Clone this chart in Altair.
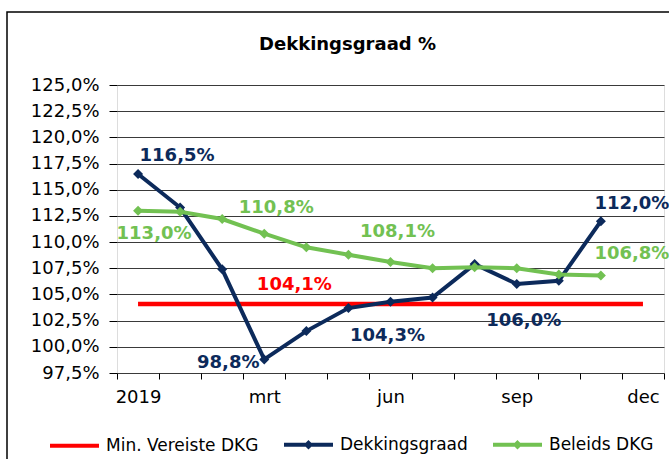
import altair as alt
import pandas as pd

months = ["2019", "jan", "feb", "mrt", "apr", "mei", "jun", "jul", "aug", "sep", "okt", "nov", "dec"]
shown_months = ["2019", "mrt", "jun", "sep", "dec"]
series_names = ["Min. Vereiste DKG", "Dekkingsgraad", "Beleids DKG"]
series_colors = ["#ff0000", "#0c2a5b", "#72c152"]

min_vereiste = [104.1] * 13
dekkingsgraad = [116.5, 113.3, 107.4, 98.8, 101.5, 103.7, 104.3, 104.7, 107.9, 106.0, 106.3, 112.0]
beleids = [113.0, 112.9, 112.2, 110.8, 109.5, 108.8, 108.1, 107.5, 107.6, 107.5, 106.9, 106.8]

y_ticks = [97.5, 100.0, 102.5, 105.0, 107.5, 110.0, 112.5, 115.0, 117.5, 120.0, 122.5, 125.0]

rows = []
for name, vals in zip(series_names, [min_vereiste, dekkingsgraad, beleids]):
    for m, v in zip(months, vals):
        rows.append({"month": m, "series": name, "value": v})
df = pd.DataFrame(rows)

FONT = "DejaVu Sans"
NAVY_BORDER = "#1f3864"

x_enc = alt.X(
    "month:N",
    sort=months,
    scale=alt.Scale(type="band", domain=months, paddingInner=0, paddingOuter=0),
    axis=alt.Axis(
        title=None,
        tickBand="extent",
        labelExpr="indexof(" + str(shown_months) + ", datum.label) >= 0 ? datum.label : ''",
        labelAngle=0,
        labelFont=FONT,
        labelFontSize=18,
        labelColor="#000000",
        labelPadding=9,
        tickColor="#000000",
        tickSize=6,
        domain=False,
        grid=False,
    ),
)
y_enc = alt.Y(
    "value:Q",
    scale=alt.Scale(domain=[97.5, 125.0], nice=False, zero=False),
    axis=alt.Axis(
        title=None,
        values=y_ticks,
        labelExpr="replace(format(datum.value, '.1f'), '.', ',') + '%'",
        labelFont=FONT,
        labelFontSize=18,
        labelColor="#000000",
        labelPadding=10,
        tickColor="#000000",
        tickSize=8,
        domain=False,
        grid=True,
        gridColor="#3a3a3a",
        gridWidth=1,
    ),
)

base = alt.Chart(df).encode(x=x_enc, y=y_enc)

layers = []

# outer chart frame (decoration)
frame = alt.Chart(pd.DataFrame({"f": [0]})).mark_rect(
    fill=None, stroke="#000000", strokeWidth=1.5
).encode(x=alt.value(-110), x2=alt.value(580), y=alt.value(-73), y2=alt.value(400))
layers.append(frame)

for name, color, width in zip(series_names, series_colors, [4.5, 4, 4]):
    layers.append(
        base.transform_filter(alt.datum.series == name).mark_line(
            color=color, strokeWidth=width
        )
    )
for name, color in zip(series_names[1:], series_colors[1:]):
    layers.append(
        base.transform_filter(alt.datum.series == name).mark_point(
            shape="diamond", filled=True, size=100, color=color, opacity=1
        )
    )

# data labels: (series, month, dx, dy)
label_specs = [
    ("Dekkingsgraad", "2019", 39, -18),
    ("Beleids DKG", "2019", 16, 23),
    ("Beleids DKG", "mrt", 12, -26),
    ("Min. Vereiste DKG", "apr", -12, -19),
    ("Dekkingsgraad", "mrt", -36, 4),
    ("Dekkingsgraad", "jun", -3, 34),
    ("Beleids DKG", "jun", 7, -30),
    ("Dekkingsgraad", "sep", 7, 37),
    ("Dekkingsgraad", "nov", 31, -17),
    ("Beleids DKG", "nov", 31, -22),
]
color_of = dict(zip(series_names, series_colors))
for s, m, dx, dy in label_specs:
    layers.append(
        base.transform_filter((alt.datum.series == s) & (alt.datum.month == m))
        .transform_calculate(lbl="replace(format(datum.value, '.1f'), '.', ',') + '%'")
        .mark_text(
            font=FONT, fontSize=18, fontWeight="bold", color=color_of[s],
            dx=dx, dy=dy, align="center", baseline="middle",
        )
        .encode(text="lbl:N")
    )

line_path = "M-1,0L1,0"
line_diamond = "M-1,0L1,0M0,-0.08L0.08,0L0,0.08L-0.08,0Z"
legend_props = dict(
    title=None,
    orient="none",
    direction="horizontal",
    legendX=-69,
    legendY=333,
    labelFont=FONT,
    labelFontSize=17,
    labelColor="#000000",
    labelOffset=5,
    symbolSize=2401,
    symbolStrokeWidth=4,
    symbolOpacity=1,
    columnPadding=17,
)
legend_layer = (
    base.transform_filter("false")
    .mark_point(filled=False, opacity=1)
    .encode(
        color=alt.Color(
            "series:N",
            scale=alt.Scale(domain=series_names, range=series_colors),
            legend=alt.Legend(**legend_props),
        ),
        shape=alt.Shape(
            "series:N",
            scale=alt.Scale(domain=series_names, range=[line_path, line_diamond, line_diamond]),
            legend=alt.Legend(**legend_props),
        ),
    )
)
layers.append(legend_layer)

chart = (
    alt.layer(*layers)
    .properties(
        width=547,
        height=288,
        autosize=alt.AutoSizeParams(type="none"),
        padding={"left": 117, "top": 85, "right": 5, "bottom": 86},
        title=alt.TitleParams(
            "Dekkingsgraad %",
            font=FONT,
            fontSize=18,
            fontWeight="bold",
            color="#000000",
            anchor="middle",
            dx=-43,
            offset=-43,
        ),
    )
    .configure_view(fill="#d9d9d9", stroke=NAVY_BORDER, strokeWidth=2)
    .configure(background="#ffffff")
)

chart.save("out.html", embed_options={"renderer": "svg", "actions": False})
